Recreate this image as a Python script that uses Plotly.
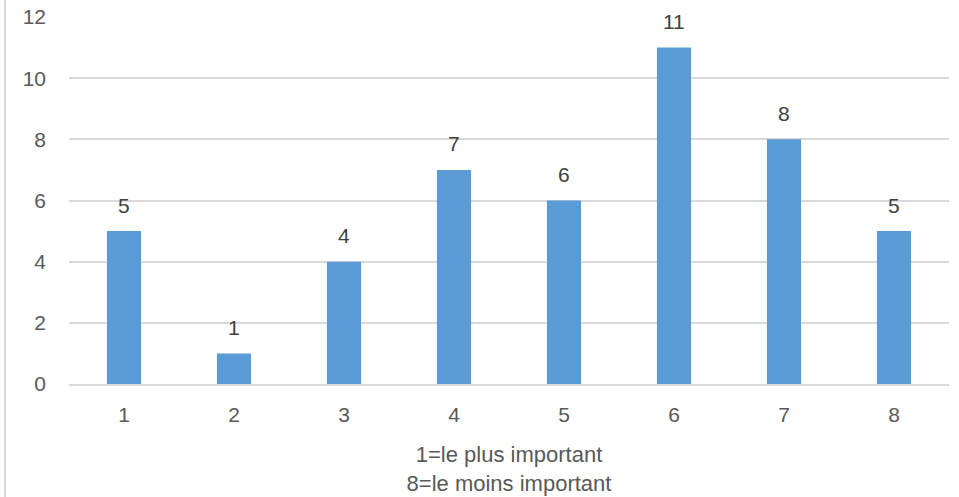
import plotly.graph_objects as go

categories = [1, 2, 3, 4, 5, 6, 7, 8]
values = [5, 1, 4, 7, 6, 11, 8, 5]
y_ticks = [0, 2, 4, 6, 8, 10, 12]
x_title = "1=le plus important<br>8=le moins important"

FONT = "Liberation Sans, Arial, sans-serif"
FS = 21

fig = go.Figure(go.Bar(
    x=categories, y=values,
    marker=dict(color="#5B9BD5", line=dict(width=0)),
    width=0.31,
    hoverinfo="x+y",
))

for c, v in zip(categories, values):
    fig.add_annotation(
        x=c, y=v, text=str(v), showarrow=False,
        yanchor="middle", yshift=26,
        font=dict(size=FS, color="#404040", family=FONT),
    )

fig.update_layout(
    width=959, height=497,
    margin=dict(l=69, r=10, t=17, b=113, autoexpand=False),
    paper_bgcolor="white", plot_bgcolor="white",
    showlegend=False,
    font=dict(family=FONT, color="#595959", size=FS),
    xaxis=dict(
        range=[0.5, 8.5], tickvals=categories, automargin=False,
        showgrid=False, zeroline=False,
        showline=True, linecolor="#d9d9d9", linewidth=1.5,
        ticks="", tickfont=dict(size=FS, color="#595959"),
        ticklabelstandoff=11,
        title=dict(text=x_title, font=dict(size=FS + 1, color="#595959"), standoff=22),
    ),
    yaxis=dict(
        range=[0, 12], tickvals=y_ticks, automargin=False,
        showgrid=True, gridcolor="#d9d9d9", gridwidth=1.5,
        zeroline=False, showline=False, ticks="",
        ticklabelstandoff=22,
        tickfont=dict(size=FS, color="#595959"),
    ),
    shapes=[dict(
        type="line", xref="paper", yref="paper",
        x0=-64/880, x1=-64/880, y0=-113/367, y1=1 + 17/367,
        line=dict(color="#d9d9d9", width=2),
    )],
)

fig.write_html(
    "out.html",
    config={"displayModeBar": False},
    post_script="document.body.style.margin='0';document.body.style.padding='0';",
)
